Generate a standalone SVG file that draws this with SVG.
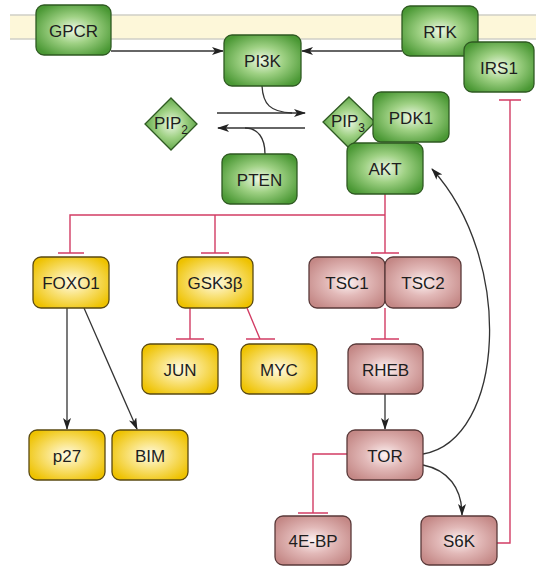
<svg xmlns="http://www.w3.org/2000/svg" width="536" height="567" viewBox="0 0 536 567">
<defs>
<radialGradient id="gG" cx="50%" cy="50%" r="60%">
<stop offset="0%" stop-color="#eef8e6"/>
<stop offset="45%" stop-color="#9fd184"/>
<stop offset="100%" stop-color="#4a9834"/>
</radialGradient>
<radialGradient id="gY" cx="50%" cy="50%" r="60%">
<stop offset="0%" stop-color="#fffbe6"/>
<stop offset="45%" stop-color="#f9e27a"/>
<stop offset="100%" stop-color="#eec200"/>
</radialGradient>
<radialGradient id="gP" cx="50%" cy="50%" r="60%">
<stop offset="0%" stop-color="#fdf3f3"/>
<stop offset="45%" stop-color="#e2b9b8"/>
<stop offset="100%" stop-color="#c48886"/>
</radialGradient>
<marker id="ar" viewBox="0 0 12 8" refX="11" refY="4" markerWidth="12" markerHeight="8" markerUnits="userSpaceOnUse" orient="auto">
<path d="M0,0 L12,4 L0,8 L3,4 z" fill="#222"/>
</marker>
<style>
.g rect,.g polygon{fill:url(#gG);stroke:#2f5a22;stroke-width:1.3}
.y rect{fill:url(#gY);stroke:#5a4a12;stroke-width:1.3}
.p rect{fill:url(#gP);stroke:#5a3a3a;stroke-width:1.3}
text{font-family:"Liberation Sans",Arial,sans-serif;font-size:17px;fill:#1e1e1e;text-anchor:middle}
.a{fill:none;stroke:#333;stroke-width:1.3}
.r{fill:none;stroke:#d23c64;stroke-width:1.4}
</style>
</defs>
<g id="membrane">
<rect x="10" y="15" width="526" height="24" fill="#fdf7d9"/>
<line x1="10" y1="15" x2="536" y2="15" stroke="#cfcfc6" stroke-width="1.3"/>
<line x1="10" y1="39" x2="536" y2="39" stroke="#cfcfc6" stroke-width="1.3"/>
</g>
<g id="connectors">
<path class="a" d="M111,51 H223" marker-end="url(#ar)"/>
<path class="a" d="M402,51 H302" marker-end="url(#ar)"/>
<path class="a" d="M217,113 H305" marker-end="url(#ar)"/>
<path class="a" d="M262,86 C263,104 270,112 292,113"/>
<path class="a" d="M305,128 H218" marker-end="url(#ar)"/>
<path class="a" d="M265,154 C265,138 258,128 245,128"/>
<path class="r" d="M70,253 V215 H385 M215,215 V253 M385,194 V253 M58,253 H84 M201,253 H229 M371,253 H399"/>
<path class="r" d="M190,308 V339 M176,339 H204 M247,308 L260,339 M246,339 H275 M385,308 V339 M371,339 H399"/>
<path class="a" d="M67,308 V429" marker-end="url(#ar)"/>
<path class="a" d="M84,308 L137,429" marker-end="url(#ar)"/>
<path class="a" d="M385,394 V429" marker-end="url(#ar)"/>
<path class="r" d="M347,454 H313 V513 M298,513 H328"/>
<path class="a" d="M423,465 C448,470 462,488 462,515" marker-end="url(#ar)"/>
<path class="a" d="M423,454 C505,440 515,260 432,169" marker-end="url(#ar)"/>
<path class="r" d="M497,543 H510 V100 M499,100 H521"/>
</g>
<g id="GPCR" class="g"><rect x="36" y="5" width="75" height="50" rx="8"/><text x="73.5" y="36.5">GPCR</text></g>
<g id="RTK" class="g"><rect x="402" y="6" width="76" height="50" rx="8"/><text x="440" y="37.5">RTK</text></g>
<g id="IRS1" class="g"><rect x="464" y="42" width="70" height="50" rx="8"/><text x="499" y="73.5">IRS1</text></g>
<g id="PI3K" class="g"><rect x="224" y="35" width="77" height="51" rx="8"/><text x="262.5" y="66.5">PI3K</text></g>
<g id="PIP2" class="g"><polygon points="171,98 197,124 171,150 145,124"/><text x="171" y="129">PIP<tspan font-size="12" dy="5">2</tspan></text></g>
<g id="PIP3" class="g"><polygon points="349,97 375,122 349,148 323,122"/><text x="348" y="127">PIP<tspan font-size="12" dy="5">3</tspan></text></g>
<g id="PDK1" class="g"><rect x="373" y="92" width="76" height="50" rx="8"/><text x="411" y="123.5">PDK1</text></g>
<g id="AKT" class="g"><rect x="347" y="143" width="76" height="51" rx="8"/><text x="385" y="174.5">AKT</text></g>
<g id="PTEN" class="g"><rect x="222" y="154" width="75" height="50" rx="8"/><text x="259.5" y="185.5">PTEN</text></g>
<g id="FOXO1" class="y"><rect x="33" y="257" width="76" height="51" rx="8"/><text x="71" y="288.5">FOXO1</text></g>
<g id="GSK3B" class="y"><rect x="177" y="257" width="76" height="51" rx="8"/><text x="215" y="288.5">GSK3β</text></g>
<g id="TSC1" class="p"><rect x="309" y="257" width="76" height="51" rx="8"/><text x="347" y="288.5">TSC1</text></g>
<g id="TSC2" class="p"><rect x="385" y="257" width="76" height="51" rx="8"/><text x="423" y="288.5">TSC2</text></g>
<g id="JUN" class="y"><rect x="142" y="344" width="76" height="50" rx="8"/><text x="180" y="375.5">JUN</text></g>
<g id="MYC" class="y"><rect x="241" y="344" width="76" height="50" rx="8"/><text x="279" y="375.5">MYC</text></g>
<g id="RHEB" class="p"><rect x="348" y="344" width="75" height="50" rx="8"/><text x="385.5" y="375.5">RHEB</text></g>
<g id="p27" class="y"><rect x="29" y="430" width="76" height="50" rx="8"/><text x="67" y="461.5">p27</text></g>
<g id="BIM" class="y"><rect x="112" y="430" width="76" height="50" rx="8"/><text x="150" y="461.5">BIM</text></g>
<g id="TOR" class="p"><rect x="347" y="430" width="76" height="50" rx="8"/><text x="385" y="461.5">TOR</text></g>
<g id="4EBP" class="p"><rect x="275" y="516" width="76" height="49" rx="8"/><text x="313" y="546.5">4E-BP</text></g>
<g id="S6K" class="p"><rect x="421" y="516" width="76" height="49" rx="8"/><text x="459" y="546.5">S6K</text></g>
</svg>
